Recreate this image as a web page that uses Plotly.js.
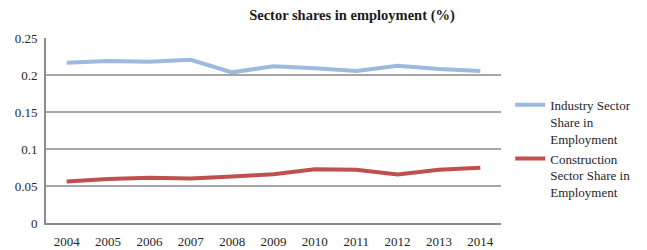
<!DOCTYPE html>
<html>
<head>
<meta charset="utf-8">
<script src="https://cdn.plot.ly/plotly-3.0.1.min.js"></script>
<style>html,body{margin:0;padding:0;background:#fff;}#chart{width:647px;height:250px;}</style>
</head>
<body>
<div id="chart"></div>
<script>
const years = ['2004','2005','2006','2007','2008','2009','2010','2011','2012','2013','2014'];
const industryShare = [0.2166, 0.219, 0.218, 0.2206, 0.2036, 0.2117, 0.209, 0.2053, 0.2125, 0.208, 0.2053];
const constructionShare = [0.056, 0.0596, 0.061, 0.060, 0.063, 0.066, 0.0727, 0.072, 0.0655, 0.072, 0.0745];
const seriesNames = ['Industry Sector<br>Share in<br>Employment', 'Construction<br>Sector Share in<br>Employment'];
const yTicks = [0, 0.05, 0.1, 0.15, 0.2, 0.25];
const yTickText = ['0', '0.05', '0.1', '0.15', '0.2', '0.25'];

const font = {family: '"Liberation Serif", "DejaVu Serif", serif', size: 13, color: '#262626'};

const data = [
  {x: years, y: industryShare, name: seriesNames[0], type: 'scatter', mode: 'lines',
   line: {color: '#9DB9DE', width: 4}},
  {x: years, y: constructionShare, name: seriesNames[1], type: 'scatter', mode: 'lines',
   line: {color: '#C0504D', width: 4}}
];

const layout = {
  width: 647, height: 250,
  margin: {l: 46, r: 145, t: 38, b: 27},
  paper_bgcolor: '#fff', plot_bgcolor: '#fff',
  font: font,
  title: {text: '<b>Sector shares in employment (%)</b>', xref: 'container', yref: 'container',
          x: 0.544, y: 0.94, xanchor: 'center', yanchor: 'middle',
          font: {family: font.family, size: 14.5, color: '#1a1a1a'}},
  xaxis: {type: 'category', range: [-0.5, years.length - 0.5], showgrid: false, showline: true,
          linecolor: '#8C8C8C', linewidth: 2, ticks: '', tickfont: font, zeroline: false,
          fixedrange: true, ticklabelstandoff: 5},
  yaxis: {range: [0, 0.25], tickvals: yTicks, ticktext: yTickText, showgrid: true,
          gridcolor: '#A6A6A6', gridwidth: 1.5, showline: true, linecolor: '#8C8C8C', linewidth: 2,
          ticks: '', tickfont: font, zeroline: false, fixedrange: true, ticklabelstandoff: 4},
  legend: {x: 1.018, y: 0.72, xanchor: 'left', yanchor: 'top', valign: 'top',
           font: font, bgcolor: 'rgba(0,0,0,0)', tracegroupgap: 4},
  showlegend: true
};

Plotly.newPlot('chart', data, layout, {displayModeBar: false, staticPlot: true});
</script>
</body>
</html>
